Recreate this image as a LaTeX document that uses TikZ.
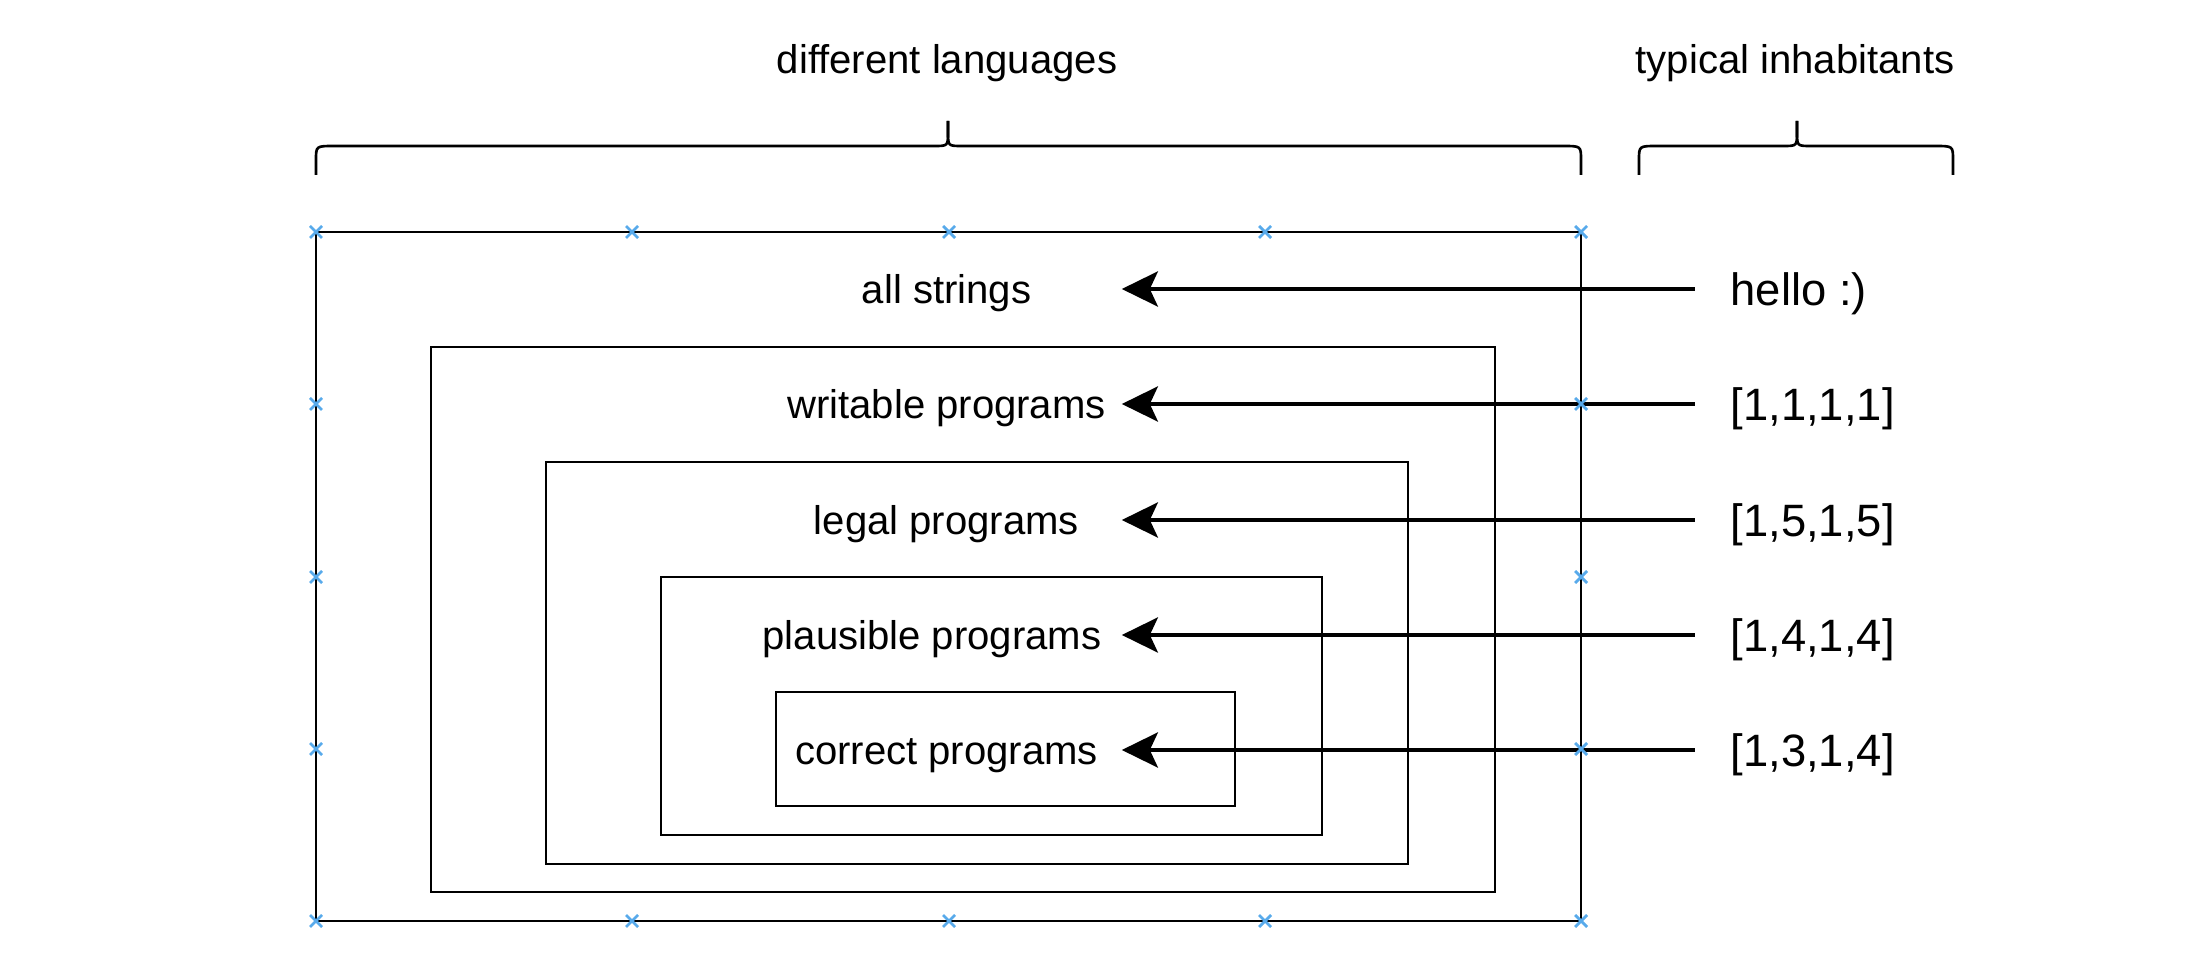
\documentclass[tikz,border=0pt]{standalone}
\usepackage{fontspec}
\setmainfont{Liberation Sans}
\usetikzlibrary{arrows.meta}

\definecolor{markblue}{RGB}{88,170,235}

\tikzset{
  box/.style={draw, line width=0.75pt},
  setlabel/.style={inner sep=0pt, text height=8.2pt, text depth=0pt,
    font=\fontsize{11.4pt}{13pt}\selectfont},
  inhabitant/.style={anchor=west, inner sep=0pt, text height=9.3pt, text depth=0pt,
    font=\fontsize{12.9pt}{15pt}\selectfont},
  heading/.style={anchor=base, inner sep=0pt, font=\fontsize{11.4pt}{13pt}\selectfont},
  arr/.style={-{Stealth[length=0.36cm, width=0.35cm, inset=0.08cm]}, line width=1.2pt},
  brace/.style={line width=0.75pt},
  xmark/.style={draw=markblue, line width=0.8pt}
}

\begin{document}
\begin{tikzpicture}[x=0.01cm, y=-0.01cm]
  \useasboundingbox (0,0) rectangle (2202,958);

  % Draw the nested boxes
  \draw[box] (316,232) rectangle (1581,921);
  \draw[box] (431,347) rectangle (1495,892);
  \draw[box] (546,462) rectangle (1408,864);
  \draw[box] (661,577) rectangle (1322,835);
  \draw[box] (776,692) rectangle (1235,806);

  % Draw the set labels
  \node[setlabel, minimum width=3.49cm] (allstr) at (946.5,289) {all strings};
  \node[setlabel, minimum width=3.49cm] (writable) at (946.5,404) {writable programs};
  \node[setlabel, minimum width=3.49cm] (legal) at (946.5,520) {legal programs};
  \node[setlabel, minimum width=3.78cm] (plausible) at (932,635) {plausible programs};
  \node[setlabel, minimum width=3.49cm] (correct) at (946.5,750) {correct programs};

  % Draw the inhabitants
  \node[inhabitant] (hello) at (1730,289) {hello :)};
  \node[inhabitant] (ones) at (1730,404) {[1,1,1,1]};
  \node[inhabitant] (fives) at (1730,520) {[1,5,1,5]};
  \node[inhabitant] (fours) at (1730,635) {[1,4,1,4]};
  \node[inhabitant] (sorted) at (1730,750) {[1,3,1,4]};

  % Draw the arrows
  \draw[arr] ([xshift=-0.35cm]hello.west) -- (allstr.east);
  \draw[arr] ([xshift=-0.35cm]ones.west) -- (writable.east);
  \draw[arr] ([xshift=-0.35cm]fives.west) -- (legal.east);
  \draw[arr] ([xshift=-0.35cm]fours.west) -- (plausible.east);
  \draw[arr] ([xshift=-0.35cm]sorted.west) -- (correct.east);

  % Draw the headings
  \node[heading] (langs) at (947,74) {different languages};
  \node[heading] (inhab) at (1795,74) {typical inhabitants};

  % Draw the braces
  \draw[brace] (316,175) -- (316,160) .. controls (316,146) .. (334,146) -- (934,146)
    .. controls (948,146) .. (948,132) -- (948,121);
  \draw[brace] (948,121) -- (948,132) .. controls (948,146) .. (962,146) -- (1563,146)
    .. controls (1581,146) .. (1581,160) -- (1581,175);
  \draw[brace] (1639,175) -- (1639,160) .. controls (1639,146) .. (1657,146) -- (1783,146)
    .. controls (1797,146) .. (1797,132) -- (1797,121);
  \draw[brace] (1797,121) -- (1797,132) .. controls (1797,146) .. (1811,146) -- (1935,146)
    .. controls (1953,146) .. (1953,160) -- (1953,175);

  % Draw the blue marks on the outer box
  \foreach \px/\py in {316/232, 632/232, 949/232, 1265/232, 1581/232,
                       316/921, 632/921, 949/921, 1265/921, 1581/921,
                       316/404, 316/577, 316/749, 1581/404, 1581/577, 1581/749}
    \draw[xmark] (\px-6,\py-6) -- (\px+6,\py+6) (\px-6,\py+6) -- (\px+6,\py-6);
\end{tikzpicture}
\end{document}
